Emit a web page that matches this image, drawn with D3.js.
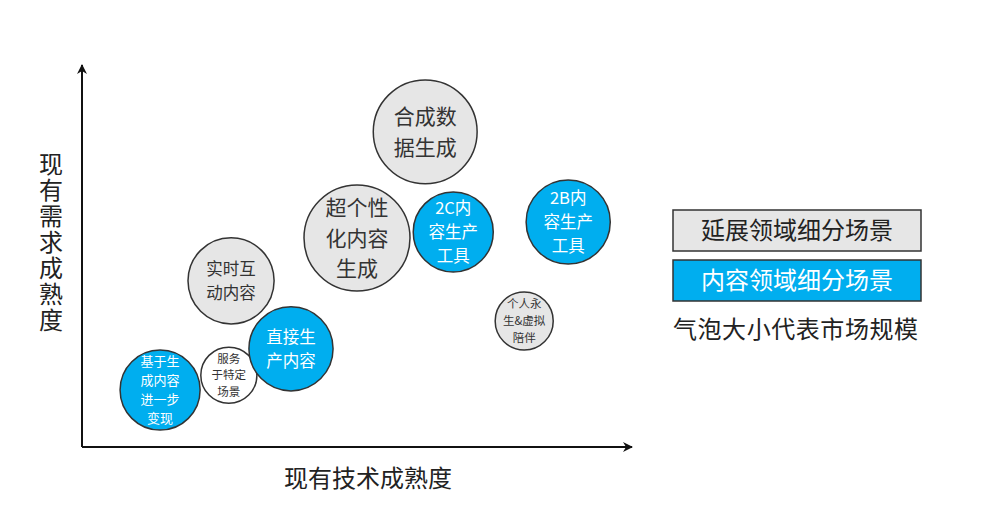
<!DOCTYPE html>
<html><head><meta charset="utf-8">
<script src="https://cdn.jsdelivr.net/npm/d3@7/dist/d3.min.js"></script>
<style>body{margin:0;background:#fff}svg{display:block;font-family:"Noto Sans CJK SC","Noto Sans",sans-serif}</style>
</head><body><svg id="c" width="1000" height="527"></svg>
<script>
// Data
const names = ["基于生成内容进一步变现","服务于特定场景","直接生产内容","实时互动内容","超个性化内容生成","2C内容生产工具","合成数据生成","2B内容生产工具","个人永生&虚拟陪伴"];
const labelLines = [["基于生","成内容","进一步","变现"],["服务","于特定","场景"],["直接生","产内容"],["实时互","动内容"],["超个性","化内容","生成"],["2C内","容生产","工具"],["合成数","据生成"],["2B内","容生产","工具"],["个人永","生&虚拟","陪伴"]];
const techMaturity = [14.2, 26.7, 38.0, 27.1, 50.0, 67.5, 62.4, 88.4, 80.4];
const demandMaturity = [14.9, 18.8, 25.7, 43.5, 54.7, 56.3, 82.5, 58.9, 33.0];
const marketSize = [57, 28, 63, 66, 100, 57, 96, 63, 30];
const category = ["content","other","content","extended","extended","content","extended","content","extended"];
const legendLabels = ["延展领域细分场景","内容领域细分场景"];
const legendNote = "气泡大小代表市场规模";
const xTitle = "现有技术成熟度", yTitle = "现有需求成熟度";

const svg = d3.select("#c");
const x = d3.scaleLinear().domain([0,100]).range([82,632]);
const y = d3.scaleLinear().domain([0,100]).range([447,65]);
const r = d3.scaleSqrt().domain([0,100]).range([0,53]);
const fill = d3.scaleOrdinal().domain(["extended","content","other"]).range(["#e6e6e6","#00aeef","#ffffff"]);
const textColor = d3.scaleOrdinal().domain(["extended","content","other"]).range(["#333","#fff","#333"]);

// arrow marker
svg.append("defs").append("marker").attr("id","arr").attr("viewBox","0 0 10 10").attr("refX",9).attr("refY",5)
  .attr("markerWidth",10).attr("markerHeight",10).attr("markerUnits","userSpaceOnUse").attr("orient","auto")
  .append("path").attr("d","M0,0L10,5L0,10L3,5Z").attr("fill","#111");

// axes
svg.append("path").attr("d",`M${x(0)},${y(0)}H${x(100)}`).attr("stroke","#111").attr("stroke-width",2).attr("fill","none").attr("marker-end","url(#arr)");
svg.append("path").attr("d",`M${x(0)},${y(0)}V${y(100)}`).attr("stroke","#111").attr("stroke-width",2).attr("fill","none").attr("marker-end","url(#arr)");

svg.append("text").attr("x",368).attr("y",487).attr("text-anchor","middle").attr("font-size",24).attr("fill","#222").text(xTitle);
svg.append("text").attr("x",51).attr("y",152).attr("font-size",24).attr("fill","#222")
  .style("writing-mode","vertical-rl").attr("letter-spacing",2).text(yTitle);

// bubbles
const idx = d3.range(names.length);
const g = svg.append("g").selectAll("g").data(idx).join("g")
  .attr("transform", i=>`translate(${x(techMaturity[i])},${y(demandMaturity[i])})`);
g.append("circle").attr("r", i=>r(marketSize[i])).attr("fill", i=>fill(category[i])).attr("stroke","#333").attr("stroke-width",1.5);
g.each(function(i){
  const rad = r(marketSize[i]);
  const fs = rad>50 ? 21 : rad>=38 ? (labelLines[i].length>3 ? 13 : 16.5) : 11.5;
  const lh = fs*1.46;
  const lines = labelLines[i];
  const t = d3.select(this).append("text").attr("text-anchor","middle").attr("font-size",fs).attr("fill",textColor(category[i]));
  lines.forEach((l,k)=> t.append("tspan").attr("x",0).attr("y",(k-(lines.length-1)/2)*lh + fs*0.36).text(l));
});

// legend
const lg = svg.append("g");
legendLabels.forEach((lab,k)=>{
  const y0 = 210 + k*50;
  lg.append("rect").attr("x",673).attr("y",y0).attr("width",248).attr("height",41)
    .attr("fill", k===0? fill("extended"):fill("content")).attr("stroke","#333").attr("stroke-width",1.5);
  lg.append("text").attr("x",797).attr("y",y0+29).attr("text-anchor","middle").attr("font-size",24)
    .attr("fill", k===0?"#222":"#fff").text(lab);
});
lg.append("text").attr("x",673).attr("y",338).attr("font-size",24).attr("fill","#222").attr("textLength",245).text(legendNote);
</script></body></html>
